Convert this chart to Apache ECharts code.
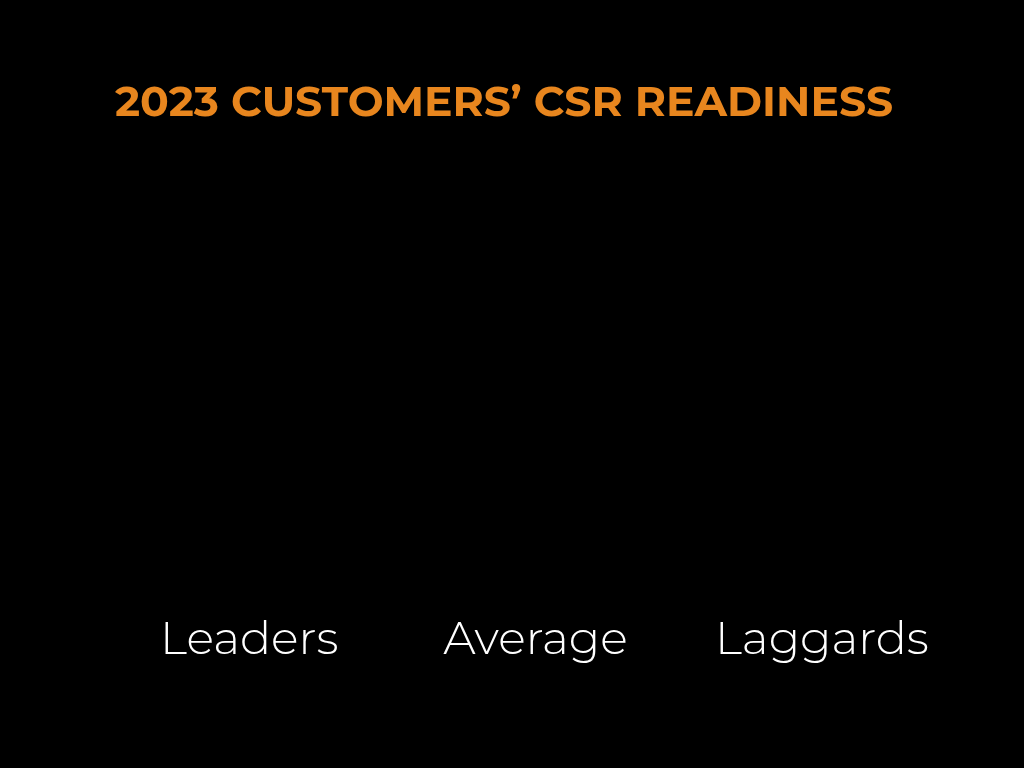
<!DOCTYPE html>
<html>
<head>
<meta charset="utf-8">
<style>
  html, body { margin: 0; padding: 0; background: #000; }
  #chart { width: 1024px; height: 768px; }
</style>
<script src="https://cdn.jsdelivr.net/npm/echarts@6/dist/echarts.min.js"></script>
</head>
<body>
<div id="chart"></div>
<script>
// chart data (frame shows the bars before they grow, so all heights are 0)
var categories = ["Leaders", "Average", "Laggards"];
var readiness = [0, 0, 0];
var titleText = "2023 CUSTOMERS\u2019 CSR READINESS";

var chart = echarts.init(document.getElementById("chart"));
var option = {
    backgroundColor: "#000000",
    animation: false,
    title: {
        text: titleText,
        left: 110,
        top: 77,
        textStyle: {
            color: "#E8861E",
            fontFamily: "Montserrat, 'Open Sans', sans-serif",
            fontWeight: "bold",
            fontSize: 42.5
        }
    },
    grid: {
        left: 106,
        right: 59,
        top: 160,
        bottom: 155
    },
    xAxis: {
        type: "category",
        data: categories,
        axisLine: {show: false},
        axisTick: {show: false},
        axisLabel: {
            color: "#ffffff",
            fontFamily: "Montserrat, 'Open Sans', sans-serif",
            fontWeight: 300,
            fontSize: 46,
            margin: 4
        }
    },
    yAxis: {
        type: "value",
        min: 0,
        max: 100,
        show: false
    },
    series: [{
        name: "CSR readiness",
        type: "bar",
        barWidth: "50%",
        itemStyle: {color: "#E8861E"},
        data: readiness
    }]
};
chart.setOption(option);
</script>
</body>
</html>
